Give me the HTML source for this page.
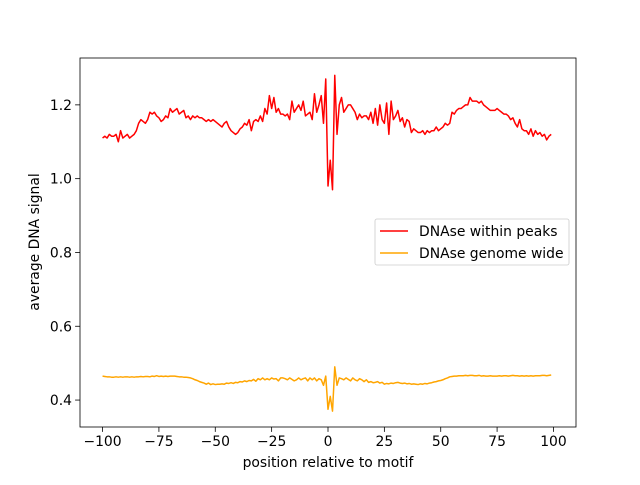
<!DOCTYPE html>
<html><head><meta charset="utf-8"><style>
body{margin:0;background:#fff;font-family:"Liberation Sans","DejaVu Sans",sans-serif}
svg text{font-family:"DejaVu Sans","Liberation Sans",sans-serif;font-size:13.9px;fill:#000}
</style></head><body>
<svg id="c" width="640" height="480"></svg>
<script>
const positionsStart=-100;
const redValues=[
1.11,1.115,1.11,1.12,1.115,1.115,1.12,1.10,1.13,1.11,
1.115,1.12,1.11,1.115,1.12,1.13,1.15,1.16,1.155,1.15,
1.16,1.18,1.175,1.18,1.17,1.165,1.155,1.16,1.17,1.165,
1.19,1.18,1.185,1.19,1.175,1.18,1.185,1.165,1.17,1.16,
1.17,1.165,1.17,1.165,1.165,1.16,1.155,1.16,1.155,1.16,
1.155,1.15,1.145,1.14,1.15,1.155,1.14,1.13,1.125,1.12,
1.125,1.135,1.14,1.15,1.145,1.16,1.13,1.155,1.16,1.155,
1.17,1.155,1.19,1.175,1.225,1.19,1.22,1.18,1.19,1.175,
1.175,1.17,1.175,1.16,1.21,1.18,1.19,1.2,1.185,1.21,
1.17,1.175,1.18,1.16,1.23,1.18,1.2,1.225,1.15,1.27,
0.98,1.05,0.97,1.28,1.12,1.2,1.22,1.18,1.19,1.2,
1.2,1.19,1.18,1.16,1.175,1.165,1.17,1.17,1.16,1.18,
1.15,1.19,1.145,1.2,1.16,1.15,1.205,1.12,1.21,1.16,
1.17,1.185,1.155,1.165,1.14,1.16,1.155,1.125,1.135,1.13,
1.125,1.125,1.13,1.12,1.13,1.125,1.13,1.13,1.14,1.13,
1.135,1.14,1.15,1.145,1.15,1.18,1.175,1.185,1.19,1.19,
1.195,1.2,1.2,1.22,1.21,1.21,1.21,1.205,1.21,1.2,
1.195,1.19,1.185,1.185,1.185,1.19,1.185,1.18,1.175,1.175,
1.17,1.16,1.165,1.15,1.14,1.16,1.135,1.13,1.13,1.12,
1.135,1.115,1.13,1.12,1.125,1.115,1.12,1.105,1.115,1.12
];
const orangeValues=[
0.465,0.464,0.463,0.463,0.462,0.462,0.463,0.462,0.463,0.462,
0.463,0.463,0.462,0.463,0.462,0.463,0.463,0.464,0.463,0.464,
0.464,0.463,0.465,0.464,0.466,0.464,0.465,0.464,0.465,0.464,
0.465,0.465,0.465,0.464,0.463,0.463,0.462,0.462,0.461,0.46,
0.458,0.455,0.453,0.45,0.448,0.446,0.443,0.446,0.442,0.444,
0.442,0.443,0.443,0.444,0.443,0.446,0.445,0.447,0.445,0.448,
0.447,0.45,0.449,0.452,0.45,0.453,0.452,0.456,0.451,0.458,
0.455,0.46,0.455,0.458,0.455,0.46,0.457,0.458,0.452,0.46,
0.46,0.458,0.455,0.46,0.456,0.452,0.455,0.46,0.455,0.458,
0.46,0.452,0.46,0.455,0.46,0.452,0.458,0.455,0.44,0.465,
0.375,0.41,0.37,0.49,0.44,0.46,0.458,0.455,0.46,0.456,
0.452,0.46,0.455,0.452,0.458,0.455,0.45,0.455,0.448,0.45,
0.447,0.448,0.45,0.446,0.448,0.443,0.445,0.444,0.446,0.445,
0.447,0.448,0.446,0.445,0.446,0.444,0.445,0.443,0.444,0.443,
0.442,0.444,0.443,0.445,0.444,0.446,0.447,0.449,0.45,0.452,
0.453,0.455,0.458,0.46,0.463,0.464,0.465,0.465,0.466,0.466,
0.466,0.467,0.466,0.467,0.467,0.466,0.466,0.467,0.465,0.466,
0.465,0.465,0.466,0.465,0.465,0.465,0.466,0.465,0.466,0.466,
0.465,0.466,0.467,0.466,0.466,0.465,0.466,0.465,0.466,0.465,
0.466,0.465,0.466,0.466,0.466,0.467,0.467,0.466,0.467,0.468
];
const xTicks=[-100,-75,-50,-25,0,25,50,75,100];
const yTicks=[0.4,0.6,0.8,1.0,1.2];
const yTickLabels=["0.4","0.6","0.8","1.0","1.2"];

const L=80,R=576,T=58,B=427;
const X0=-110,X1=110,Y0=0.327,Y1=1.327;
const sx=v=>L+(v-X0)/(X1-X0)*(R-L);
const sy=v=>B-(v-Y0)/(Y1-Y0)*(B-T);
const svg=document.getElementById('c');
const NS='http://www.w3.org/2000/svg';
function mk(tag,attrs,parent){const e=document.createElementNS(NS,tag);for(const k in attrs)e.setAttribute(k,attrs[k]);(parent||svg).appendChild(e);return e;}

function series(vals,color,name){
  const n=Math.min(vals.length,200);
  let d='';
  for(let i=0;i<n;i++){d+=(i?'L':'M')+sx(positionsStart+i).toFixed(2)+','+sy(vals[i]).toFixed(2);}
  const p=mk('path',{d:d,fill:'none',stroke:color,'stroke-width':1.5,'stroke-linejoin':'round'});
  
  
}
series(redValues,'#ff0000','line-dnase-within-peaks');
series(orangeValues,'#ffa500','line-dnase-genome-wide');

const frame=mk('rect',{x:L,y:T,width:R-L,height:B-T,fill:'none',stroke:'#000','stroke-width':0.8});



xTicks.forEach(t=>{
  const x=sx(t);
  mk('line',{x1:x,x2:x,y1:B,y2:B+4.9,stroke:'#000','stroke-width':0.8});
  const tx=mk('text',{x:x,y:B+19,'text-anchor':'middle'});
  tx.textContent=(t<0?'\u2212'+(-t):t);
  
  
});
yTicks.forEach((t,i)=>{
  const y=sy(t);
  mk('line',{x1:L-4.9,x2:L,y1:y,y2:y,stroke:'#000','stroke-width':0.8});
  const tx=mk('text',{x:L-8,y:y+5,'text-anchor':'end'});
  tx.textContent=yTickLabels[i];
  
  
});
const xt=mk('text',{x:(L+R)/2,y:467,'text-anchor':'middle'});
xt.textContent='position relative to motif';


const yt=mk('text',{x:0,y:0,'text-anchor':'middle',transform:'translate(39,242) rotate(-90)'});
yt.textContent='average DNA signal';



const lg=mk('g',{});


mk('rect',{x:375,y:219,width:194,height:46,rx:2,fill:'#fff','fill-opacity':0.8,stroke:'#ccc','stroke-width':0.8},lg);
[['DNAse within peaks','#ff0000',231],['DNAse genome wide','#ffa500',253]].forEach(([lab,c,y])=>{
  mk('line',{x1:380,x2:408,y1:y,y2:y,stroke:c,'stroke-width':1.5},lg);
  const t=mk('text',{x:419,y:y+5},lg);
  t.textContent=lab;
  
  
});
</script>
</body></html>
